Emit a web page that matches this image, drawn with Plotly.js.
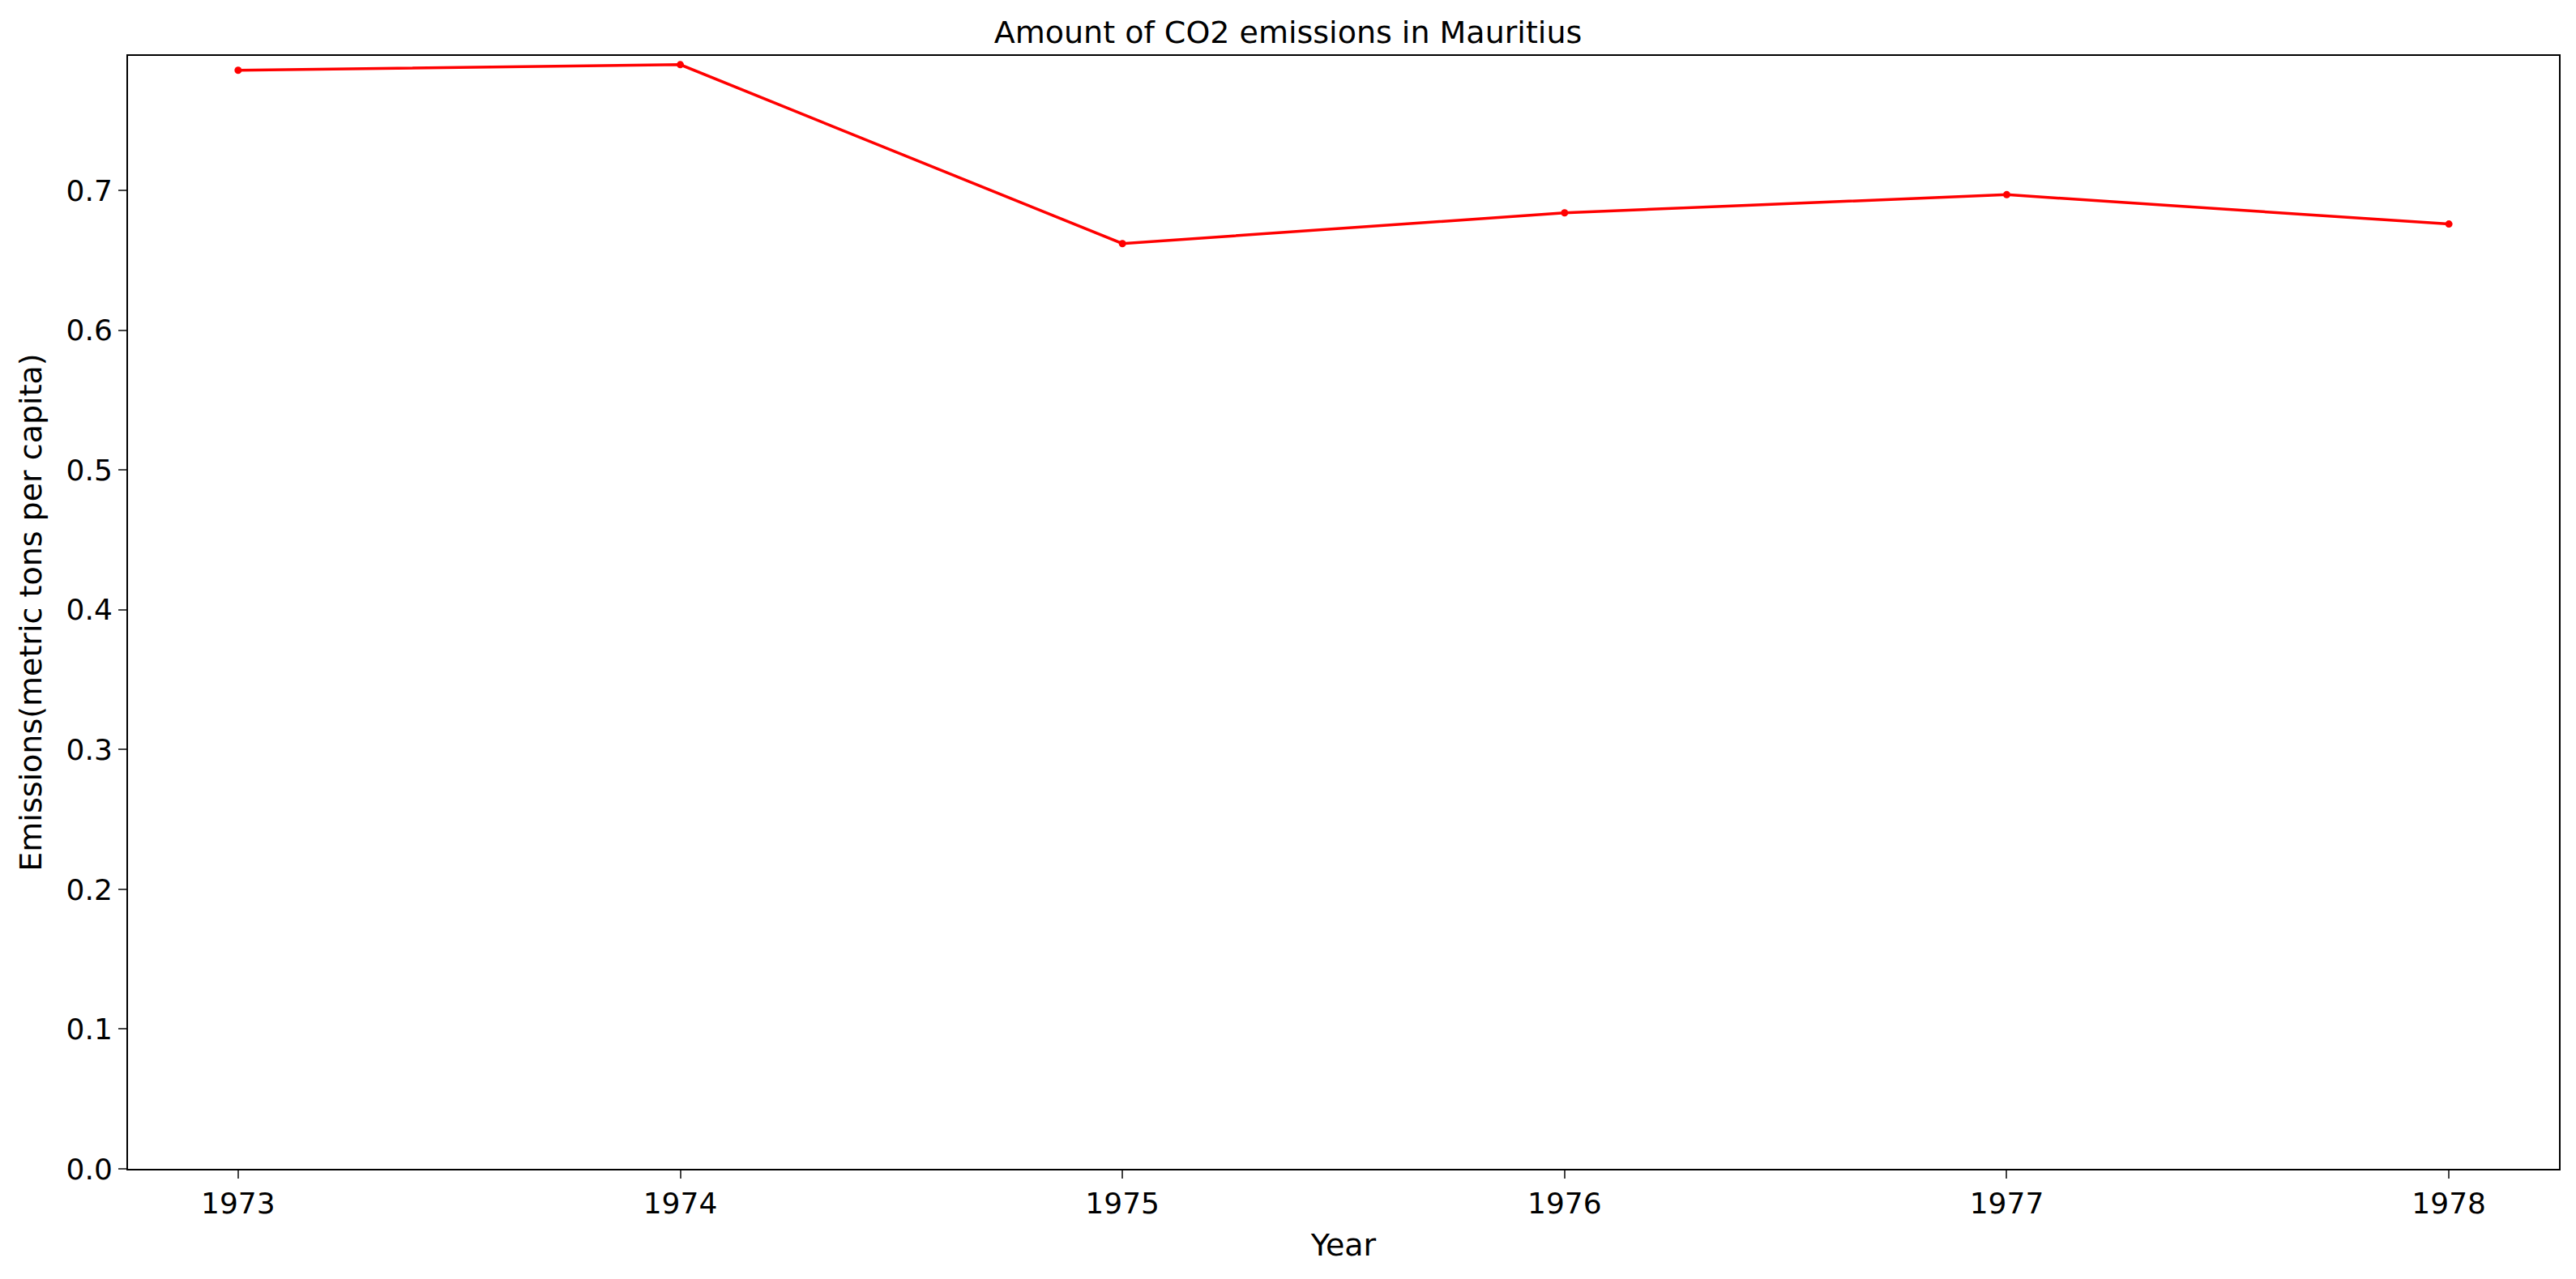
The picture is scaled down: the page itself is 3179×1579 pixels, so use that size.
<!DOCTYPE html>
<html>
<head>
<meta charset="utf-8">
<script src="https://cdn.plot.ly/plotly-3.0.1.min.js"></script>
<style>html,body{margin:0;padding:0;background:#fff;}</style>
</head>
<body>
<div id="chart" style="width:3179px;height:1579px;"></div>
<script>
const years = [1973, 1974, 1975, 1976, 1977, 1978];
const emissions = [0.786, 0.790, 0.662, 0.684, 0.697, 0.676];

const trace = {
    x: years, y: emissions, type: 'scatter', mode: 'lines+markers',
    line: { color: '#ff0000', width: 3.5 },
    marker: { color: '#ff0000', size: 9 }
};

Plotly.newPlot('chart', [trace], {
    width: 3179, height: 1579,
    font: { family: 'DejaVu Sans', color: '#000', size: 36 },
    margin: { l: 158, r: 21, t: 69, b: 136 },
    title: { text: 'Amount of CO2 emissions in Mauritius', font: { size: 38 }, y: 0.975, yanchor: 'middle' },
    showlegend: false,
    plot_bgcolor: '#fff', paper_bgcolor: '#fff',
    xaxis: {
        title: { text: 'Year', font: { size: 38 }, standoff: 18 },
        range: [1972.751, 1978.249], tickvals: years, ticktext: years.map(String),
        showgrid: false, zeroline: false, showline: true, mirror: true,
        linecolor: '#000', linewidth: 2, ticks: 'outside', ticklen: 10, tickwidth: 2
    },
    yaxis: {
        title: { text: 'Emissions(metric tons per capita)', font: { size: 38 }, standoff: 18 },
        range: [0, 0.7963], dtick: 0.1, tickformat: '.1f',
        showgrid: false, zeroline: false, showline: true, mirror: true,
        linecolor: '#000', linewidth: 2, ticks: 'outside', ticklen: 10, tickwidth: 2
    }
}, { displayModeBar: false });
</script>
</body>
</html>
